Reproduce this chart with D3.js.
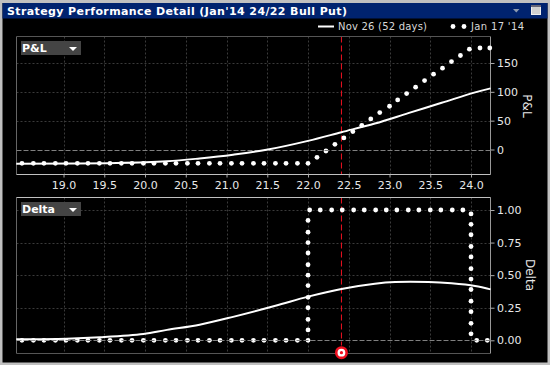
<!DOCTYPE html>
<html><head><meta charset="utf-8">
<script src="https://cdn.jsdelivr.net/npm/d3@7"></script>
<style>html,body{margin:0;padding:0;background:#000;overflow:hidden}svg{display:block}text{font-family:"DejaVu Sans",sans-serif}</style>
</head><body><svg id="c" width="550" height="365"></svg>
<script>
const titleText = "Strategy Performance Detail (Jan'14 24/22 Bull Put)";
const legendSolid = "Nov 26 (52 days)";
const legendDots = "Jan 17 '14";
const currentPrice = 22.41;
const priceTicks = [19,19.5,20,20.5,21,21.5,22,22.5,23,23.5,24];
const pnlTicks = [0,50,100,150];
const deltaTicks = [0,0.25,0.5,0.75,1];

const pnlCurvePrice = [18.42,19.65,20.27,20.67,21.08,21.49,22.0,22.41,22.82,23.23,23.64,24.05,24.24];
const pnlCurveValue = [-24.5,-23.5,-20.5,-15.5,-9,-0.5,15,30,45,63,81,99,106];
const pnlDotPrice = [18.49,18.63,18.76,18.90,19.03,19.17,19.30,19.44,19.57,19.71,19.84,19.98,20.11,20.25,20.38,20.52,20.65,20.79,20.92,21.06,21.19,21.33,21.46,21.60,21.73,21.87,22.0,22.11,22.22,22.33,22.44,22.55,22.66,22.77,22.88,23.0,23.1,23.21,23.32,23.43,23.54,23.65,23.76,23.87,23.98,24.11,24.23];
const pnlDotValue = [-24,-24,-24,-24,-24,-24,-24,-24,-24,-24,-24,-24,-24,-24,-24,-24,-24,-24,-24,-24,-24,-24,-24,-24,-24,-24,-24,-13.5,-2.6,9,20,31,42,53,64,75,86,97,108,119.6,130.6,141,152.4,163,174,176,176];

const deltaCurvePrice = [18.42,19.04,19.45,19.98,20.27,20.67,21.08,21.6,22.0,22.41,22.82,23.07,23.48,23.76,24.05,24.24];
const deltaCurveValue = [0.008,0.012,0.023,0.048,0.08,0.12,0.18,0.265,0.335,0.394,0.434,0.447,0.447,0.437,0.417,0.391];
const deltaDotPrice = [18.49,18.63,18.76,18.90,19.03,19.17,19.30,19.44,19.57,19.71,19.84,19.98,20.11,20.25,20.38,20.52,20.65,20.79,20.92,21.06,21.19,21.33,21.46,21.60,21.73,21.87,22.0,22.0,22.0,22.0,22.0,22.0,22.0,22.0,22.0,22.0,22.0,22.0,22.02,22.15,22.29,22.42,22.56,22.69,22.83,22.96,23.09,23.23,23.36,23.50,23.63,23.77,23.90,24.0,24.0,24.0,24.0,24.0,24.0,24.0,24.0,24.0,24.0,24.0,24.0,24.07,24.2];
const deltaDotValue = [0,0,0,0,0,0,0,0,0,0,0,0,0,0,0,0,0,0,0,0,0,0,0,0,0,0,0,0.08,0.16,0.25,0.33,0.42,0.5,0.58,0.67,0.75,0.83,0.92,1,1,1,1,1,1,1,1,1,1,1,1,1,1,1,0.97,0.89,0.81,0.72,0.64,0.55,0.47,0.39,0.3,0.22,0.13,0.05,0,0];

const svg = d3.select("#c");
const L=16.5,R=490.5;
const x = d3.scaleLinear().domain([18.423,24.239]).range([L,R]);
const panels = [
 {name:"P&L",top:36.5,bot:174.5,y:d3.scaleLinear().domain([0,150]).range([149.5,63]),ticks:pnlTicks,fmt:d3.format("d"),
  cx:pnlCurvePrice,cy:pnlCurveValue,dx:pnlDotPrice,dy:pnlDotValue,tx:523,tm:106,topC:"#555",botC:"#c0c0c0"},
 {name:"Delta",top:197.5,bot:353.5,y:d3.scaleLinear().domain([0,1]).range([340.3,210]),ticks:deltaTicks,fmt:d3.format(".2f"),
  cx:deltaCurvePrice,cy:deltaCurveValue,dx:deltaDotPrice,dy:deltaDotValue,tx:526,tm:275,topC:"#c0c0c0",botC:"#555"}
];

// window chrome
svg.append("rect").attr("width",550).attr("height",365).attr("fill","#c0c0c0");
svg.append("rect").attr("x",2.5).attr("y",3).attr("width",545).attr("height",359.5).attr("fill","#000");
svg.append("rect").attr("x",2.5).attr("y",3).attr("width",545).attr("height",15.5).attr("fill","#00236f");
const tt = svg.append("text").attr("x",7).attr("y",15).attr("fill","#fff").attr("font-weight","bold").attr("font-size",11).text(titleText);
tt.attr("letter-spacing",(340-tt.node().getComputedTextLength())/(titleText.length-1));
svg.append("path").attr("d","M513,9h6.5l-3.2,3.5z").attr("fill","#8c9ab0");
svg.append("rect").attr("x",531.5).attr("y",5.5).attr("width",9).attr("height",9).attr("fill","#d0d0d0").attr("stroke","#eee");
svg.append("rect").attr("x",531).attr("y",5).attr("width",10).attr("height",2).attr("fill","#667");

// legend
const lg = svg.append("g").attr("fill","#d8d8d8").attr("font-size",10);
lg.append("line").attr("x1",318).attr("x2",334).attr("y1",26.5).attr("y2",26.5).attr("stroke","#fff").attr("stroke-width",2);
lg.append("text").attr("x",338).attr("y",29.5).attr("textLength",89).text(legendSolid);
lg.append("circle").attr("cx",453).attr("cy",26.5).attr("r",2.4).attr("fill","#fff");
lg.append("circle").attr("cx",464).attr("cy",26.5).attr("r",2.4).attr("fill","#fff");
lg.append("text").attr("x",471).attr("y",29.5).attr("textLength",53).text(legendDots);

panels.forEach(p=>{
  const g = svg.append("g");
  // grid
  priceTicks.forEach(t=>g.append("line").attr("x1",Math.round(x(t))+.5).attr("x2",Math.round(x(t))+.5).attr("y1",p.top).attr("y2",p.bot).attr("stroke","#3a3a3a").attr("stroke-dasharray","2 2"));
  p.ticks.forEach(t=>{ if(t!==0) g.append("line").attr("x1",L).attr("x2",R).attr("y1",Math.round(p.y(t))+.5).attr("y2",Math.round(p.y(t))+.5).attr("stroke","#3a3a3a").attr("stroke-dasharray","2 2");});
  // current price
  g.append("line").attr("x1",x(currentPrice)).attr("x2",x(currentPrice)).attr("y1",p.top).attr("y2",p.name==="Delta"?p.bot-8:p.bot).attr("stroke","#f01020").attr("stroke-dasharray","6 3").attr("stroke-width",1);
  // frame
  g.append("line").attr("x1",L).attr("x2",L).attr("y1",p.top).attr("y2",p.bot).attr("stroke","#666");
  g.append("line").attr("x1",R).attr("x2",R).attr("y1",p.top).attr("y2",p.bot).attr("stroke","#999");
  g.append("line").attr("x1",L).attr("x2",R).attr("y1",p.top).attr("y2",p.top).attr("stroke",p.topC);
  g.append("line").attr("x1",L).attr("x2",R).attr("y1",p.bot).attr("y2",p.bot).attr("stroke",p.botC);
  // axes
  const ay = d3.axisRight(p.y).tickValues(p.ticks).tickFormat(p.fmt).tickSize(4).tickPadding(2.5);
  const ayg = g.append("g").attr("transform",`translate(${R},0)`).call(ay);
  ayg.select(".domain").remove();
  ayg.selectAll("text").attr("fill","#e8e8e8").attr("font-size",11);
  ayg.selectAll("line").attr("stroke","#aaa");
  // y title
  g.append("text").attr("transform",`translate(${p.tx},${p.tm}) rotate(90)`).attr("text-anchor","middle").attr("fill","#e8e8e8").attr("font-size",12).text(p.name);
  // series
  g.selectAll("circle.d").data(d3.zip(p.dx,p.dy)).join("circle").attr("class","d").attr("cx",d=>x(d[0])).attr("cy",d=>p.y(d[1])).attr("r",2.4).attr("fill","#fff");
  // zero line
  g.append("line").attr("x1",L).attr("x2",R).attr("y1",Math.round(p.y(0))+.5).attr("y2",Math.round(p.y(0))+.5).attr("stroke","#808080").attr("stroke-dasharray","5 2");
  const line = d3.line().x(d=>x(d[0])).y(d=>p.y(d[1])).curve(d3.curveCatmullRom.alpha(0.5));
  g.append("path").attr("d",line(d3.zip(p.cx,p.cy))).attr("fill","none").attr("stroke","#fff").attr("stroke-width",2);
  // dropdown
  g.append("rect").attr("x",21).attr("y",p.top+4.5).attr("width",60).attr("height",14).attr("fill","#444");
  g.append("text").attr("x",22).attr("y",p.top+15.5).attr("fill","#fff").attr("font-weight","bold").attr("font-size",11).text(p.name);
  g.append("path").attr("d",`M69,${p.top+10.5}h8l-4,4z`).attr("fill","#fff");
});
// price axis between the panels
const ax = d3.axisBottom(x).tickValues(priceTicks).tickFormat(d3.format(".1f")).tickSize(3).tickPadding(4);
const axg = svg.append("g").attr("transform","translate(0,174.5)").call(ax);
axg.select(".domain").remove();
axg.selectAll("text").attr("fill","#e8e8e8").attr("font-size",11);
axg.selectAll("line").attr("stroke","#aaa");
// marker
const mx = x(currentPrice);
svg.append("circle").attr("cx",mx).attr("cy",352.7).attr("r",5.2).attr("fill","#fff").attr("stroke","#f01020").attr("stroke-width",2.6);
svg.append("circle").attr("cx",mx).attr("cy",352.7).attr("r",1.6).attr("fill","#f01020");
</script></body></html>
